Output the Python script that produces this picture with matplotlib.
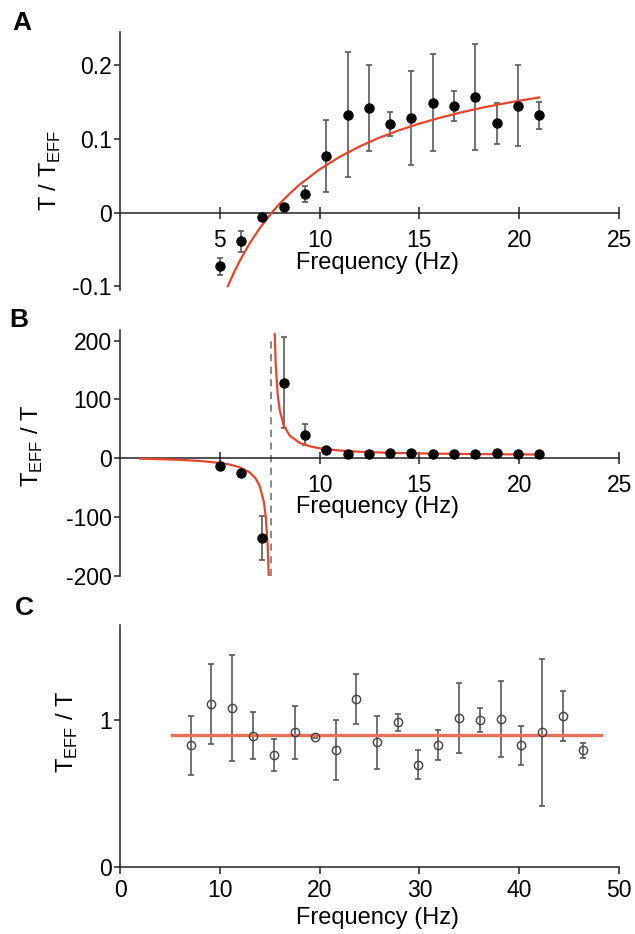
import numpy as np
import matplotlib
matplotlib.use('Agg')
import matplotlib.pyplot as plt

plt.rcParams['font.family'] = ['Liberation Sans', 'DejaVu Sans']
plt.rcParams['mathtext.fontset'] = 'custom'
plt.rcParams['mathtext.rm'] = 'Liberation Sans'
plt.rcParams['axes.unicode_minus'] = False

# Panel A: T / T_EFF
freq_a = [5.0, 6.07, 7.13, 8.2, 9.27, 10.33, 11.4, 12.47, 13.53, 14.6, 15.67, 16.73, 17.8, 18.87, 19.93, 21.0]
ratio_a = [-0.073, -0.039, -0.006, 0.008, 0.025, 0.077, 0.133, 0.142, 0.120, 0.128, 0.149, 0.145, 0.157, 0.121, 0.145, 0.132]
err_a = [0.012, 0.014, 0.003, 0.003, 0.011, 0.049, 0.085, 0.058, 0.016, 0.064, 0.066, 0.020, 0.072, 0.028, 0.055, 0.018]
fit_f_a = [5.4, 5.7, 6.0, 6.5, 7.0, 7.6, 8.0, 8.5, 9.0, 10, 11, 12, 13, 14, 15, 16, 17, 18, 19, 20, 21]
fit_y_a = [-0.0998, -0.0817, -0.0653, -0.0415, -0.0210, 0.0, 0.0123, 0.0259, 0.0381, 0.0588, 0.0757,
           0.0898, 0.1018, 0.1120, 0.1209, 0.1286, 0.1355, 0.1416, 0.1470, 0.1519, 0.1563]

# Panel B: T_EFF / T
ratio_b = [-13.6, -24.4, -135, 128.6, 40, 14.7, 7.8, 7.5, 8.6, 8.2, 7.0, 7.2, 6.6, 8.6, 7.2, 7.8]
err_b = [3, 4, 37, 77, 18, 5, 2, 2, 2, 2, 2, 2, 2, 2, 2, 2]
fit_f_b_left = [1.0, 2.0, 3.0, 4.0, 5.0, 5.5, 6.0, 6.5, 6.8, 7.0, 7.2, 7.3, 7.4, 7.44, 7.45]
fit_y_b_left = [-0.6, -1.5, -2.7, -4.5, -7.9, -10.7, -15.3, -24.1, -34.7, -47.6, -73.5, -99.3, -151, -190, -200]
fit_f_b_right = [7.75, 7.8, 7.9, 8.0, 8.2, 8.5, 9.0, 9.5, 10, 11, 12, 13, 14, 15, 16, 17, 18, 19, 20, 21]
fit_y_b_right = [210.9, 159.2, 107.5, 81.6, 55.8, 38.5, 26.2, 20.4, 17.0, 13.2, 11.1, 9.8, 8.9, 8.3,
                 7.8, 7.4, 7.1, 6.8, 6.6, 6.4]
pole_f = 7.58

# Panel C: T_EFF / T after correction
freq_c = [7.1, 9.15, 11.2, 13.3, 15.4, 17.5, 19.5, 21.6, 23.65, 25.7, 27.8, 29.9, 31.9, 34.0, 36.1, 38.2, 40.2, 42.3, 44.35, 46.4]
ratio_c = [0.825, 1.107, 1.08, 0.89, 0.76, 0.914, 0.886, 0.795, 1.14, 0.848, 0.982, 0.695, 0.827, 1.011,
           0.998, 1.005, 0.825, 0.914, 1.025, 0.793]
err_c = [0.20, 0.27, 0.36, 0.16, 0.11, 0.18, 0.01, 0.205, 0.17, 0.18, 0.06, 0.10, 0.10, 0.24, 0.08, 0.26,
         0.135, 0.50, 0.17, 0.05]
fit_f_c = [5.2, 48.2]
fit_y_c = [0.898, 0.898]

red = '#e8462c'
bar_col = '#5a5a5a'
TICK_FS = 16.5
LAB_FS = 17

fig = plt.figure(figsize=(6.35, 9.34), dpi=100)
axA = fig.add_axes([0.189, 0.6895, 0.786, 0.2765])
axB = fig.add_axes([0.189, 0.3833, 0.786, 0.2634])
axC = fig.add_axes([0.189, 0.0721, 0.786, 0.2587])


def style(ax):
    ax.spines['top'].set_visible(False)
    ax.spines['right'].set_visible(False)
    for s in ['left', 'bottom']:
        ax.spines[s].set_linewidth(1.1)
        ax.spines[s].set_color('#222222')
    ax.tick_params(axis='y', direction='out', length=4, width=1.1, pad=2, labelsize=TICK_FS, color='#222222')


# A
style(axA)
axA.spines['bottom'].set_position(('data', 0))
axA.tick_params(axis='x', direction='inout', length=9, width=1.1, pad=7, labelsize=TICK_FS, color='#222222')
axA.errorbar(freq_a, ratio_a, yerr=err_a, fmt='none', ecolor=bar_col, elinewidth=1.2, capsize=2.5, capthick=1.2, zorder=2)
axA.plot(fit_f_a, fit_y_a, color=red, lw=1.6, zorder=3)
axA.plot(freq_a, ratio_a, 'o', color='black', ms=6.5, zorder=4)
axA.set_xlim(0, 25)
axA.set_ylim(-0.105, 0.2455)
axA.set_xticks([5, 10, 15, 20, 25])
axA.set_yticks([-0.1, 0, 0.1, 0.2])
axA.set_yticklabels(['-0.1', '0', '0.1', '0.2'])
axA.set_xlabel('Frequency (Hz)', fontsize=LAB_FS)
axA.xaxis.set_label_coords(0.515, 0.105)
axA.xaxis.label.set_va('center')
axA.set_ylabel(r'T / T$_{\mathrm{EFF}}$', fontsize=LAB_FS)
axA.yaxis.set_label_coords(-0.14, 0.465)
axA.yaxis.label.set_va('center')
fig.text(0.035, 0.975, 'A', fontsize=19, fontweight='bold', va='center', ha='center')

# B
style(axB)
axB.spines['bottom'].set_position(('data', 0))
axB.tick_params(axis='x', direction='inout', length=9, width=1.1, pad=7, labelsize=TICK_FS, color='#222222')
axB.plot([pole_f, pole_f], [-200, 207], color='#808080', lw=1.3, ls=(0, (4, 3)), zorder=1)
axB.errorbar(freq_a, ratio_b, yerr=err_b, fmt='none', ecolor=bar_col, elinewidth=1.2, capsize=2.5, capthick=1.2, zorder=2)
axB.plot(fit_f_b_left, fit_y_b_left, color=red, lw=1.6, zorder=3)
axB.plot(fit_f_b_right, fit_y_b_right, color=red, lw=1.6, zorder=3)
axB.plot(freq_a, ratio_b, 'o', color='black', ms=6.5, zorder=4)
axB.set_xlim(0, 25)
axB.set_ylim(-200, 218)
axB.set_xticks([5, 10, 15, 20, 25])
axB.set_xticklabels(['', '10', '15', '20', '25'])
axB.set_yticks([-200, -100, 0, 100, 200])
axB.set_xlabel('Frequency (Hz)', fontsize=LAB_FS)
axB.xaxis.set_label_coords(0.515, 0.28)
axB.xaxis.label.set_va('center')
axB.set_ylabel(r'T$_{\mathrm{EFF}}$ / T', fontsize=LAB_FS)
axB.yaxis.set_label_coords(-0.176, 0.53)
axB.yaxis.label.set_va('center')
fig.text(0.03, 0.657, 'B', fontsize=19, fontweight='bold', va='center', ha='center')

# C
style(axC)
axC.tick_params(axis='x', direction='out', length=5, width=1.1, pad=4, labelsize=TICK_FS, color='#222222')
axC.errorbar(freq_c, ratio_c, yerr=err_c, fmt='none', ecolor=bar_col, elinewidth=1.2, capsize=2.5, capthick=1.2, zorder=2)
axC.plot(fit_f_c, fit_y_c, color='#e8715c', lw=2.4, zorder=3)
axC.plot(freq_c, ratio_c, 'o', mfc='none', mec='#444444', mew=1.0, ms=6, zorder=4)
axC.set_xlim(0, 50)
axC.set_ylim(0, 1.645)
axC.set_xticks([0, 10, 20, 30, 40, 50])
axC.set_yticks([0, 1])
axC.set_xlabel('Frequency (Hz)', fontsize=LAB_FS)
axC.xaxis.set_label_coords(0.515, -0.213)
axC.xaxis.label.set_va('center')
axC.set_ylabel(r'T$_{\mathrm{EFF}}$ / T', fontsize=LAB_FS)
axC.yaxis.set_label_coords(-0.106, 0.557)
axC.yaxis.label.set_va('center')
fig.text(0.038, 0.349, 'C', fontsize=19, fontweight='bold', va='center', ha='center')

fig.savefig('out.png', dpi=100)
